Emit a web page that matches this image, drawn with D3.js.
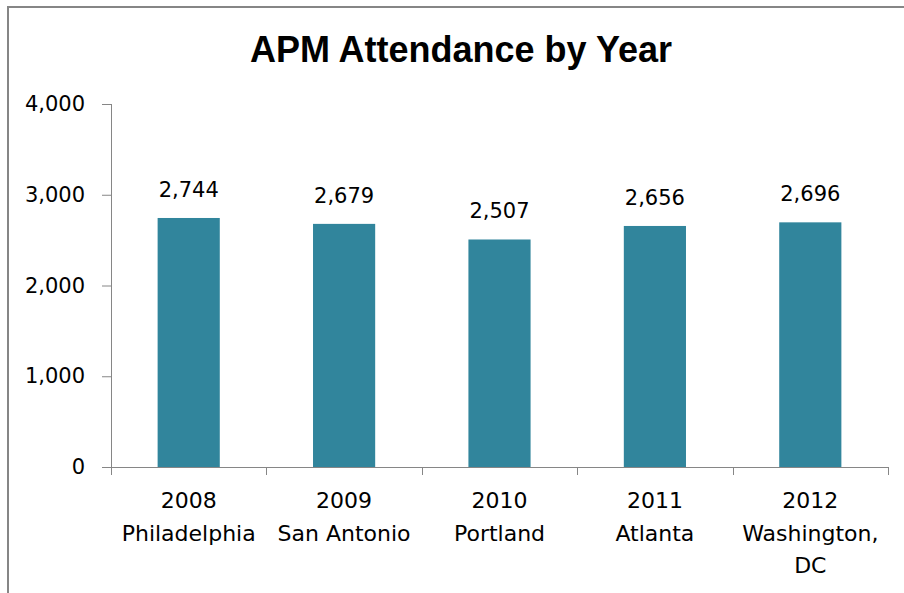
<!DOCTYPE html>
<html>
<head>
<meta charset="utf-8">
<script src="https://cdn.jsdelivr.net/npm/d3@7"></script>
<style>
  body { margin: 0; background: #fff; }
  svg { display: block; }
</style>
</head>
<body>
<div id="chart"></div>
<script>
// data
let years = ["2008", "2009", "2010", "2011", "2012"];
let cities = ["Philadelphia", "San Antonio", "Portland", "Atlanta", "Washington, DC"];
let attendance = [2744, 2679, 2507, 2656, 2696];
let yTicks = [0, 1000, 2000, 3000, 4000];

let w = 904;
let h = 593;
let font = "'DejaVu Sans', sans-serif";

let svg = d3.select("#chart")
    .append("svg")
    .attr("width", w)
    .attr("height", h);

// chart frame (runs off the right / bottom edge like the screenshot)
svg.append("rect")
    .attr("x", 8)
    .attr("y", 7)
    .attr("width", w + 20)
    .attr("height", h + 20)
    .attr("fill", "#fff")
    .attr("stroke", "#868686")
    .attr("stroke-width", 2);

svg.append("text")
    .attr("x", 461)
    .attr("y", 62)
    .attr("text-anchor", "middle")
    .style("font-family", "'Liberation Sans', Arial, sans-serif")
    .style("font-weight", "bold")
    .style("font-size", "36px")
    .attr("fill", "#000")
    .text("APM Attendance by Year");

let pLeft = 111, pRight = 888, pTop = 104, pBottom = 467;

let xScale = d3.scaleBand()
    .domain(years)
    .range([pLeft, pRight])
    .paddingInner(0.6)
    .paddingOuter(0.3);

let yScale = d3.scaleLinear()
    .domain([0, 4000])
    .range([pBottom, pTop]);

// y axis
let yAxis = d3.axisLeft(yScale)
    .tickValues(yTicks)
    .tickFormat(d3.format(","))
    .tickSize(9)
    .tickPadding(17);

let gy = svg.append("g")
    .attr("transform", "translate(" + pLeft + ",0)")
    .call(yAxis);
gy.select(".domain").attr("stroke", "#868686").attr("d", "M0.5," + pTop + "V" + pBottom);
gy.selectAll(".tick line").attr("stroke", "#868686");
gy.selectAll(".tick text")
    .style("font-family", font)
    .style("font-size", "21px")
    .attr("fill", "#000");

// x axis line with category dividers
let xAxisG = svg.append("g").attr("transform", "translate(0," + pBottom + ")");
xAxisG.append("line")
    .attr("x1", pLeft)
    .attr("x2", pRight)
    .attr("y1", 0.5)
    .attr("y2", 0.5)
    .attr("stroke", "#868686");

let edges = years.map((d, i) => pLeft + i * (pRight - pLeft) / years.length).concat([pRight]);
xAxisG.selectAll(".divider")
    .data(edges)
    .enter()
    .append("line")
    .attr("class", "divider")
    .attr("x1", d => Math.round(d) + 0.5)
    .attr("x2", d => Math.round(d) + 0.5)
    .attr("y1", 0)
    .attr("y2", 8)
    .attr("stroke", "#868686");

// bars
let dataset = years.map((y, i) => ({ year: y, city: cities[i], value: attendance[i] }));

svg.selectAll(".bar")
    .data(dataset)
    .enter()
    .append("rect")
    .attr("class", "bar")
    .attr("x", d => xScale(d.year))
    .attr("y", d => yScale(d.value))
    .attr("width", xScale.bandwidth())
    .attr("height", d => pBottom - yScale(d.value))
    .attr("fill", "#31859c");

// value labels
svg.selectAll(".val")
    .data(dataset)
    .enter()
    .append("text")
    .attr("class", "val")
    .attr("x", d => xScale(d.year) + xScale.bandwidth() / 2)
    .attr("y", d => yScale(d.value) - 21)
    .attr("text-anchor", "middle")
    .style("font-family", font)
    .style("font-size", "21px")
    .attr("fill", "#000")
    .text(d => d3.format(",")(d.value));

// category labels, wrapped to the band width
let bandW = (pRight - pLeft) / years.length;
let catText = svg.selectAll(".cat")
    .data(dataset)
    .enter()
    .append("text")
    .attr("class", "cat")
    .attr("text-anchor", "middle")
    .style("font-family", font)
    .style("font-size", "22px")
    .attr("fill", "#000");

catText.each(function(d) {
    let t = d3.select(this);
    let cx = xScale(d.year) + xScale.bandwidth() / 2;
    let lines = [d.year];
    // wrap the city name
    let words = d.city.split(" ");
    let cur = "";
    let probe = t.append("tspan");
    words.forEach(wd => {
        let test = cur ? cur + " " + wd : wd;
        probe.text(test);
        if (probe.node().getComputedTextLength() > bandW - 8 && cur) {
            lines.push(cur);
            cur = wd;
        } else {
            cur = test;
        }
    });
    lines.push(cur);
    probe.remove();
    lines.forEach((ln, i) => {
        t.append("tspan")
            .attr("x", cx)
            .attr("y", 508 + i * 32.5)
            .text(ln);
    });
});
</script>
</body>
</html>
